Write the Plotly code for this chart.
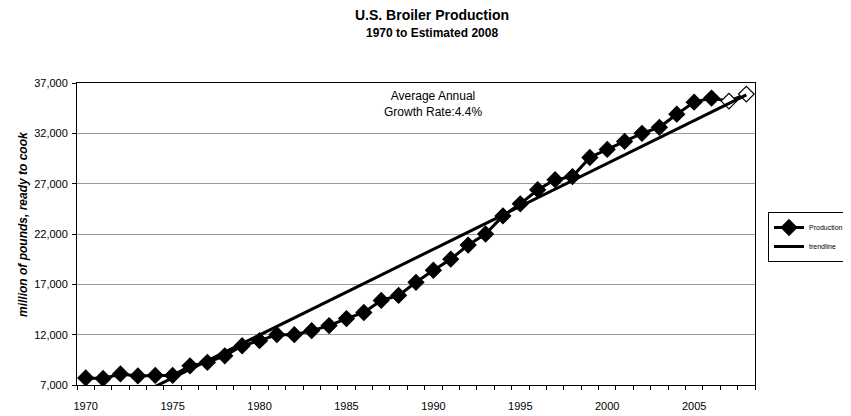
import numpy as np
import plotly.graph_objects as go

years = list(range(1970, 2009))
production = [7700, 7650, 8100, 7900, 7950, 7950, 8900, 9250, 9900, 10900,
              11400, 12000, 12000, 12400, 12900, 13600, 14200, 15400, 15900, 17200,
              18400, 19500, 20900, 22000, 23800, 25000, 26400, 27400, 27700, 29600,
              30400, 31200, 32000, 32600, 33900, 35100, 35500, 35200, 35900]
estimated_years = [2007, 2008]
y_ticks = [7000, 12000, 17000, 22000, 27000, 32000, 37000]
x_labels = [1970, 1975, 1980, 1985, 1990, 1995, 2000, 2005]

# linear trendline fitted to the production series
coef = np.polyfit(years, production, 1)
trend_x = [years[0], years[-1]]
trend_y = [float(np.polyval(coef, v)) for v in trend_x]

fill = ["white" if y in estimated_years else "black" for y in years]
FONT = "Liberation Sans, Arial, sans-serif"

OFF = 8  # default page body margin
W, H = 851 - OFF, 416 - OFF
L = 77 - OFF
T = 83 - OFF
R = W - (755 - OFF)
B = H - (385 - OFF)
PW, PH = W - L - R, H - T - B


def px_x(px):
    return (px - OFF - L) / PW


def px_y(py):
    return (H - B - (py - OFF)) / PH


fig = go.Figure()
fig.add_trace(go.Scatter(
    x=years, y=production, name="Production", mode="lines+markers",
    line=dict(color="black", width=3),
    marker=dict(symbol="diamond", size=12, color=fill,
                line=dict(color="black", width=1.2)),
))
fig.add_trace(go.Scatter(
    x=trend_x, y=trend_y, name="trendline", mode="lines",
    line=dict(color="black", width=3),
))

fig.update_layout(
    width=W, height=H,
    margin=dict(l=L, r=R, t=T, b=B, autoexpand=False),
    paper_bgcolor="white", plot_bgcolor="white",
    font=dict(family=FONT, color="black", size=11),
    showlegend=True,
    legend=dict(x=px_x(768), xanchor="left", y=px_y(212), yanchor="top",
                font=dict(size=7), bordercolor="black", borderwidth=1,
                bgcolor="white", tracegroupgap=0, itemwidth=30),
    annotations=[
        dict(text="<b>U.S. Broiler Production</b>", x=px_x(432), xref="paper",
             y=px_y(15), yref="paper", showarrow=False, font=dict(size=14),
             xanchor="center", yanchor="middle"),
        dict(text="<b>1970 to Estimated 2008</b>", x=px_x(432), xref="paper",
             y=px_y(33), yref="paper", showarrow=False, font=dict(size=12),
             xanchor="center", yanchor="middle"),
        dict(text="Average Annual<br>Growth Rate:4.4%", x=px_x(433), xref="paper",
             y=px_y(104), yref="paper", showarrow=False, font=dict(size=12),
             align="center", xanchor="center", yanchor="middle"),
        dict(text="<b><i>million of pounds, ready to cook</i></b>",
             x=px_x(23), xref="paper", y=px_y(224), yref="paper",
             showarrow=False, textangle=-90, font=dict(size=12),
             xanchor="center", yanchor="middle"),
    ],
)

fig.update_xaxes(
    range=[1969.5, 2008.5], tickvals=x_labels, ticks="", showgrid=False,
    showline=True, linecolor="black", linewidth=1, mirror=True,
    tickfont=dict(size=11), zeroline=False, ticklabelstandoff=11,
    minor=dict(ticks="outside", tick0=1969.5, dtick=1, ticklen=4,
               tickcolor="black", showgrid=False),
)
fig.update_yaxes(
    range=[7000, 37000], tickvals=y_ticks, tickformat=",d",
    ticks="outside", ticklen=4, tickcolor="black",
    showgrid=True, gridcolor="#9a9a9a", gridwidth=1,
    showline=True, linecolor="black", linewidth=1, mirror=True,
    zeroline=False, tickfont=dict(size=11), ticklabelstandoff=2,
)

fig.write_html("out.html")
